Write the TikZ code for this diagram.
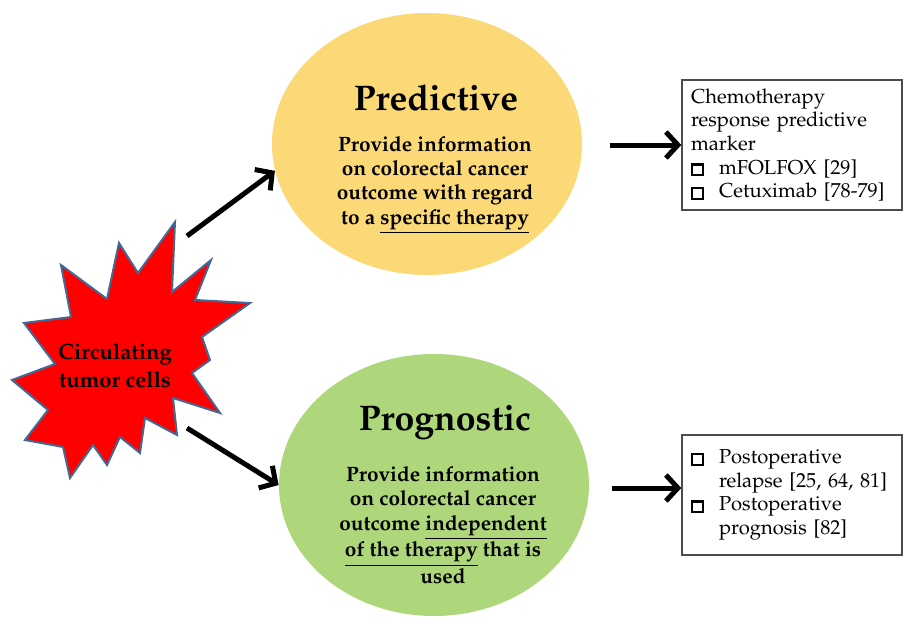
\documentclass[tikz,border=0pt]{standalone}
\usepackage[T1]{fontenc}
\usepackage{mathpazo}
\usepackage{xcolor}
\usepackage{tikz}
\usetikzlibrary{arrows.meta,positioning,shapes.geometric}

\definecolor{predyellow}{RGB}{251,217,119}
\definecolor{proggreen}{RGB}{173,215,122}
\definecolor{starblue}{RGB}{65,105,150}
\newcommand{\sqbox}{\makebox[14pt][l]{\fboxsep=0pt\fboxrule=1.2pt\fbox{\rule{0pt}{4.2pt}\hspace{4.2pt}}}}

\begin{document}
\begin{tikzpicture}[x=0.5pt, y=-0.5pt, blob/.style={ellipse, minimum width=155pt, minimum height=131pt, inner sep=0pt}, head/.style={anchor=base, font=\fontsize{17.8}{20}\selectfont\bfseries}, body/.style={align=center, font=\fontsize{10.4}{12.2}\selectfont\bfseries}, infobox/.style={rectangle, draw=black!70, line width=0.7pt, text width=101pt, inner xsep=4.5pt, align=left, font=\fontsize{10.1}{11.8}\selectfont}, arr/.style={-{Straight Barb[length=6pt,width=13pt]}, line width=2.5pt}]
\useasboundingbox (0,0) rectangle (905,621);
% ellipses
\node[blob, fill=predyellow] (pred) at (427,144) {};
\node[blob, fill=proggreen] (prog) at (434,485) {};
\node[head] (predtitle) at (436,110) {Predictive};
\node[head] (progtitle) at (445,430) {Prognostic};
\node[body] (predtext) at (435,185) {Provide information\\on colorectal cancer\\outcome with regard\\to a \underline{specific therapy}};
\node[body] (progtext) at (443,525) {Provide information\\on colorectal cancer\\outcome \underline{independent}\\\underline{of the therapy} that is\\used};
% star
\draw[fill=red, draw=starblue, line width=1pt, line join=miter] (175,222) -- (172,292) -- (211,260) -- (195,300) -- (250,303) -- (202,337) -- (210,360) -- (192,373) -- (220,413) -- (173,398) -- (177,435) -- (145,418) -- (140,453) -- (120,437) -- (107,465) -- (93,445) -- (70,478) -- (63,447) -- (25,440) -- (48,410) -- (12,380) -- (55,364) -- (24,323) -- (71,317) -- (61,265) -- (107,299) -- (119,243) -- (138,273) -- cycle;
\node[align=center, font=\fontsize{11}{14}\selectfont\bfseries] (ctc) at (115,366) {Circulating\\tumor cells};
% boxes
\node[infobox, minimum height=65pt] (chemo) at (792,145) {Chemotherapy\\response predictive\\marker\\\sqbox mFOLFOX [29]\\\sqbox Cetuximab [78-79]};
\node[infobox, minimum height=60pt] (post) at (792,495) {\sqbox Postoperative\\\hspace*{14pt}relapse [25, 64, 81]\\\sqbox Postoperative\\\hspace*{14pt}prognosis [82]};
% arrows
\coordinate (s1) at (187,236);
\coordinate (s2) at (187,428);
\coordinate (p1) at (610,145);
\coordinate (p2) at (612,488);
\draw[arr] (s1) -- (pred.190);
\draw[arr] (s2) -- (prog.west);
\draw[arr] (p1) -- (chemo.west);
\draw[arr] (p2) -- (p2 -| post.west);
\end{tikzpicture}
\end{document}
